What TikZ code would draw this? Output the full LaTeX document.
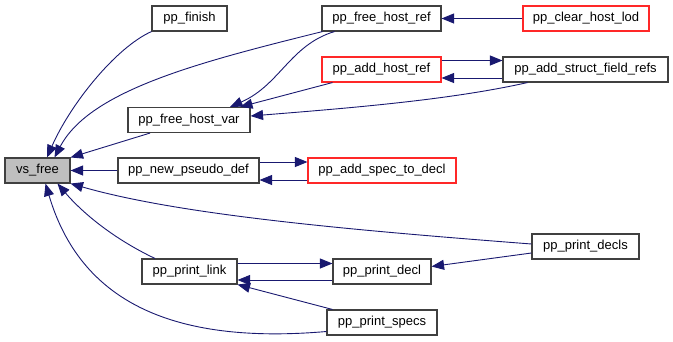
\documentclass[tikz,border=0pt]{standalone}
\usepackage{fontspec}
\setmainfont{Liberation Sans}
\usetikzlibrary{arrows.meta}
\definecolor{edgeblue}{RGB}{25,25,112}
\definecolor{boxgray}{RGB}{64,64,64}
\definecolor{boxred}{RGB}{255,40,40}
\definecolor{fillgray}{RGB}{191,191,191}
\tikzset{
  fn/.style={draw=boxgray, line width=1.1pt, fill=white, rectangle,
    minimum height=25pt, inner sep=0pt, font=\fontsize{13}{15}\selectfont},
  fnred/.style={fn, draw=boxred},
  fncur/.style={fn, fill=fillgray},
  call/.style={draw=edgeblue, line width=0.9pt,
    -{Triangle[length=12.5pt,width=10pt]}},
}
\begin{document}
\begin{tikzpicture}[x=1pt,y=-1pt]
\useasboundingbox (0,0) rectangle (673,341);

% functions
\node[fncur, minimum width=65pt]  (vs)    at (37.5,170.5) {vs\_free};
\node[fn, minimum width=75pt]     (fin)   at (189.5,18.5) {pp\_finish};
\node[fn, minimum width=119pt]    (fhr)   at (381.5,18.5) {pp\_free\_host\_ref};
\node[fnred, minimum width=126pt] (chl)   at (586,18.5)   {pp\_clear\_host\_lod};
\node[fnred, minimum width=119pt] (ahr)   at (381.5,69.5) {pp\_add\_host\_ref};
\node[fn, minimum width=165pt]    (asf)   at (585.5,69.5) {pp\_add\_struct\_field\_refs};
\node[fn, minimum width=122pt]    (fhv)   at (189,120)    {pp\_free\_host\_var};
\node[fn, minimum width=141pt]    (npd)   at (188.5,170.5){pp\_new\_pseudo\_def};
\node[fnred, minimum width=148pt] (astd)  at (382,170.5)  {pp\_add\_spec\_to\_decl};
\node[fn, minimum width=107pt]    (pds)   at (585.5,246.5){pp\_print\_decls};
\node[fn, minimum width=95pt]     (plk)   at (189.5,271.5){pp\_print\_link};
\node[fn, minimum width=98pt]     (pdc)   at (382,271.5)  {pp\_print\_decl};
\node[fn, minimum width=110pt]    (psp)   at (382,322.5)  {pp\_print\_specs};

% calls into vs_free
\draw[call] (fin.south west) .. controls (115,48) and (70,105) .. ([xshift=9.5]vs.north);
\draw[call] ([xshift=1]fhr.south west) .. controls (200,62) and (90,90) .. ([xshift=17]vs.north);
\draw[call] ([xshift=-39]fhv.south) -- (vs.north east);
\draw[call] (npd.west) -- (vs.east);
\draw[call] ([yshift=2.5]pds.west) .. controls (350,230) and (180,215) .. (vs.south east);
\draw[call] ([xshift=-34.5]plk.north) .. controls (110,237) and (80,210) .. ([xshift=20]vs.south);
\draw[call] ([yshift=-9]psp.west) .. controls (170,345) and (80,300) .. ([xshift=8]vs.south);

% calls into pp_free_host_var
\draw[call] ([xshift=13]fhr.south west) .. controls (290,45) and (280,85) .. ([xshift=41]fhv.north);
\draw[call] ([xshift=11]ahr.south west) -- ([xshift=51]fhv.north);
\draw[call] ([xshift=-58]asf.south) .. controls (450,100) and (350,108) .. ([yshift=4]fhv.east);

% remaining calls
\draw[call] (chl.west) -- (fhr.east);
\draw[call] ([yshift=9]ahr.east) -- ([yshift=9]asf.west);
\draw[call] ([yshift=-8.5]asf.west) -- ([yshift=-8.5]ahr.east);
\draw[call] ([yshift=8.5]npd.east) -- ([yshift=8.5]astd.west);
\draw[call] ([yshift=-9.5]astd.west) -- ([yshift=-9.5]npd.east);
\draw[call] ([yshift=8]plk.east) -- ([yshift=8]pdc.west);
\draw[call] ([yshift=-8.5]pdc.west) -- ([yshift=-8.5]plk.east);
\draw[call] ([xshift=6]psp.north west) -- (plk.south east);
\draw[call] ([yshift=-6.5]pds.west) -- ([yshift=5]pdc.east);
\end{tikzpicture}
\end{document}
